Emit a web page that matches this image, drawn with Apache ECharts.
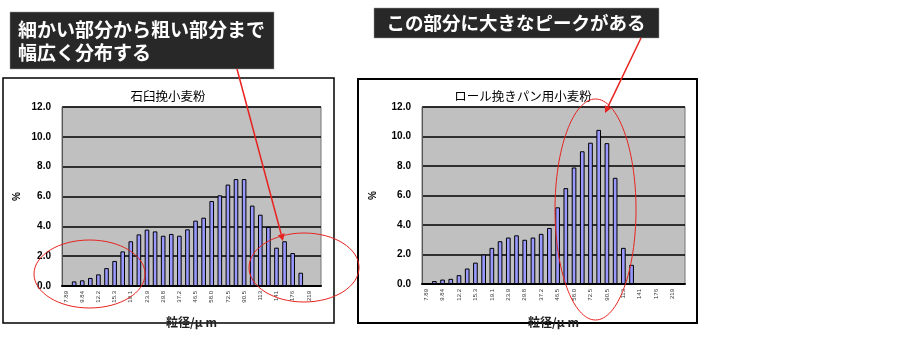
<!DOCTYPE html>
<html>
<head>
<meta charset="utf-8">
<script src="https://cdn.jsdelivr.net/npm/echarts@6/dist/echarts.min.js"></script>
<style>
html,body{margin:0;padding:0;background:#fff;}
#c{width:900px;height:350px;}
</style>
</head>
<body>
<div id="c"></div>
<script>
// particle size classes (µm), labelled every other class
const categories = ['7.89','8.81','9.84','11.0','12.2','13.7','15.3','17.1','19.1','21.4','23.9','26.7','29.8','33.3','37.2','41.6','46.5','51.9','58.0','64.9','72.5','81.0','90.5','101','113','126','141','157','176','196','219','245'];
// 石臼挽小麦粉 (%)
const stoneMill = [0.02,0.31,0.38,0.54,0.78,1.2,1.68,2.32,3.0,3.46,3.78,3.66,3.37,3.49,3.37,3.8,4.38,4.58,5.7,6.08,6.8,7.17,7.17,5.39,4.78,3.96,2.57,3.0,2.21,0.89,0.03,0];
// ロール挽きパン用小麦粉 (%)
const rollMill = [0.02,0.2,0.3,0.35,0.6,1.05,1.45,2.0,2.45,2.9,3.15,3.3,3.0,3.15,3.4,3.8,5.2,6.5,7.9,9.0,9.58,10.45,9.55,7.2,2.45,1.3,0.04,0.04,0.04,0.04,0.04,0.04];
const yTicks = [0,2,4,6,8,10,12];

const chart = echarts.init(document.getElementById('c'), null, {renderer:'canvas'});
const RED = '#e8231f';
const JP = '"Noto Sans CJK JP", sans-serif';

function arrow(x1,y1,x2,y2,head){
  const dx=x2-x1, dy=y2-y1, L=Math.hypot(dx,dy), ux=dx/L, uy=dy/L;
  const s=7, w=3.5;
  const bx=x2-ux*s, by=y2-uy*s;
  const els=[{type:'line', z:100, shape:{x1:x1,y1:y1,x2:head?bx:x2,y2:head?by:y2}, style:{stroke:RED, lineWidth:1.5}}];
  if(head) els.push({type:'polygon', z:100, shape:{points:[[x2,y2],[bx-uy*w,by+ux*w],[bx+uy*w,by-ux*w]]}, style:{fill:RED}});
  return els;
}

function yAxis(gi, gap){
  return {
    type:'value', gridIndex:gi, min:yTicks[0], max:yTicks[yTicks.length-1], interval:2,
    name:'%', nameLocation:'middle', nameGap:gap, nameRotate:90,
    nameTextStyle:{fontSize:10, fontWeight:'bold', color:'#000', fontFamily:'Liberation Sans'},
    axisLine:{show:true, lineStyle:{color:'#555', width:1}},
    axisTick:{show:false},
    axisLabel:{formatter:v=>v.toFixed(1), fontSize:10, fontWeight:'bold', color:'#000', margin:11, fontFamily:'Liberation Sans'},
    splitLine:{show:true, lineStyle:{color:'#000', width:1.5}}
  };
}
function xAxis(gi, gap){
  return {
    type:'category', gridIndex:gi, data:categories,
    name:'粒径/μ m', nameLocation:'middle', nameGap:gap,
    nameTextStyle:{fontSize:12, fontWeight:'bold', color:'#222', fontFamily:JP},
    axisLine:{show:true, lineStyle:{color:'#000', width:2}},
    axisTick:{show:false},
    axisLabel:{interval:1, rotate:90, fontSize:6, color:'#333', margin:5, fontFamily:'Liberation Sans'}
  };
}
function bars(gi, data){
  return {
    type:'bar', xAxisIndex:gi, yAxisIndex:gi, data:data, barWidth:'57%',
    itemStyle:{color:'#9999ff', borderColor:'#000', borderWidth:1},
    silent:true
  };
}

const graphics = [
  // chart frames
  {type:'rect', z:-1, shape:{x:3,y:78,width:331,height:245}, style:{fill:'none', stroke:'#000', lineWidth:1.5}},
  {type:'rect', z:-1, shape:{x:358,y:79,width:339,height:244}, style:{fill:'none', stroke:'#000', lineWidth:2}},
  // chart titles
  {type:'text', x:168, y:96, style:{text:'石臼挽小麦粉', font:'12.5px '+JP, fill:'#000', textAlign:'center', textVerticalAlign:'middle'}},
  {type:'text', x:523, y:96, style:{text:'ロール挽きパン用小麦粉', font:'12.5px '+JP, fill:'#000', textAlign:'center', textVerticalAlign:'middle'}},
  // callout boxes
  {type:'rect', z:90, shape:{x:10,y:12,width:264,height:57}, style:{fill:'#282828', stroke:'#999', lineWidth:0.5}},
  {type:'text', z:91, x:18, y:30, style:{text:'細かい部分から粗い部分まで', font:'bold 19px '+JP, fill:'#fff', textVerticalAlign:'middle'}},
  {type:'text', z:91, x:18, y:53, style:{text:'幅広く分布する', font:'bold 19px '+JP, fill:'#fff', textVerticalAlign:'middle'}},
  {type:'rect', z:90, shape:{x:374,y:8,width:285,height:30}, style:{fill:'#282828', stroke:'#999', lineWidth:0.5}},
  {type:'text', z:91, x:516, y:23, style:{text:'この部分に大きなピークがある', font:'bold 18.5px '+JP, fill:'#fff', textAlign:'center', textVerticalAlign:'middle'}},
  // ellipses
  {type:'ellipse', z:100, shape:{cx:89.5,cy:274,rx:55.5,ry:34}, style:{fill:'none', stroke:RED, lineWidth:1}},
  {type:'ellipse', z:100, shape:{cx:304,cy:267.5,rx:55,ry:34.5}, style:{fill:'none', stroke:RED, lineWidth:1}},
  {type:'ellipse', z:100, shape:{cx:595.5,cy:209.5,rx:40.5,ry:110.5}, style:{fill:'none', stroke:RED, lineWidth:1}}
].concat(arrow(237,69,283,241,true)).concat(arrow(641,38,605,113,true));

chart.setOption({
  animation:false,
  backgroundColor:'#fff',
  grid:[
    {left:62, top:107, width:259, height:179, show:true, backgroundColor:'#c0c0c0', borderColor:'#777', borderWidth:1},
    {left:422, top:107, width:263, height:177, show:true, backgroundColor:'#c0c0c0', borderColor:'#777', borderWidth:1}
  ],
  xAxis:[xAxis(0,30), xAxis(1,32)],
  yAxis:[yAxis(0,40), yAxis(1,44)],
  series:[bars(0, stoneMill), bars(1, rollMill)],
  graphic:graphics
});
</script>
</body>
</html>
